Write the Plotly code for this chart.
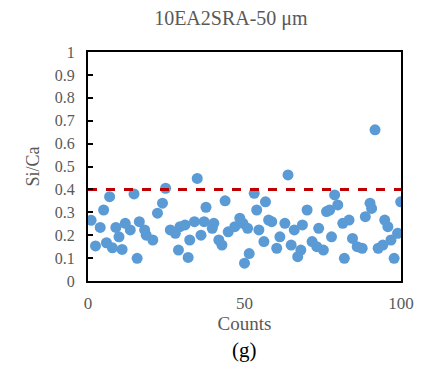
import plotly.graph_objects as go

counts = [1, 2.4, 3.9, 5.0, 5.9, 6.9, 7.8, 8.9, 9.9, 10.9, 11.9, 13.5, 14.7, 15.7, 16.4,
          18.1, 18.6, 20.7, 22.2, 23.8, 24.8, 26.3, 27.9, 28.9, 29.4, 31, 32, 32.5,
          34.0, 34.9, 36.1, 37.1, 37.7, 39.7, 40.2, 41.8, 42.8, 43.8, 44.8, 46.9, 48.5, 49.5, 50, 51.5,
          51, 53.1, 53.9, 54.6, 56.2, 56.7, 57.7, 58.7, 60.3, 61.3, 62.9, 63.9, 64.9, 65.9, 67,
          68, 68.5, 70, 71.6, 73.1, 73.7, 75.2, 76.2, 77.2, 77.8, 78.8, 79.8, 81.4, 81.9, 83.4, 84.5,
          86, 87.6, 88.6, 90.1, 90.6, 91.7, 92.7, 94.2, 94.8, 95.8, 96.8, 97.8, 98.9, 99.9]
si_ca = [0.265, 0.153, 0.234, 0.31, 0.167, 0.368, 0.145, 0.234, 0.193, 0.138, 0.252, 0.223, 0.38, 0.099, 0.259,
         0.223, 0.20, 0.179, 0.296, 0.34, 0.405, 0.223, 0.208, 0.135, 0.237, 0.245, 0.103, 0.179,
         0.259, 0.448, 0.20, 0.259, 0.322, 0.23, 0.252, 0.179, 0.157, 0.35, 0.215, 0.237, 0.274, 0.252, 0.078, 0.12,
         0.23, 0.383, 0.31, 0.223, 0.172, 0.346, 0.266, 0.259, 0.143, 0.193, 0.252, 0.463, 0.157, 0.223, 0.106,
         0.135, 0.245, 0.31, 0.172, 0.15, 0.23, 0.135, 0.303, 0.31, 0.193, 0.376, 0.332, 0.252, 0.099, 0.266, 0.186,
         0.15, 0.143, 0.281, 0.34, 0.317, 0.66, 0.143, 0.157, 0.266, 0.237, 0.179, 0.099, 0.208, 0.346]
threshold = 0.4
x_ticks = [0, 50, 100]
y_ticks = [0, 0.1, 0.2, 0.3, 0.4, 0.5, 0.6, 0.7, 0.8, 0.9, 1]

FONT = "Liberation Serif, Times New Roman, serif"
GREY = "#595959"

fig = go.Figure()
fig.add_trace(go.Scatter(x=counts, y=si_ca, mode="markers",
                         marker=dict(size=11, color="#5B9BD5"), showlegend=False))
fig.add_trace(go.Scatter(x=[0, 100], y=[threshold, threshold], mode="lines",
                         line=dict(color="#C00000", width=3, dash="dash"), showlegend=False))

fig.update_layout(
    width=426, height=366,
    margin=dict(l=88, r=14, t=52, b=85),
    paper_bgcolor="white", plot_bgcolor="white",
    font=dict(family=FONT, color=GREY, size=16),
    title=dict(text="10EA2SRA-50 μm", x=0.542, xanchor="center", y=0.95, yanchor="middle",
               font=dict(family=FONT, size=20, color=GREY)),
    xaxis=dict(range=[0, 100], tickvals=x_ticks, ticktext=[str(v) for v in x_ticks],
               showline=True, linecolor="black", linewidth=2, mirror=True,
               showgrid=False, zeroline=False, ticks="", ticklabelstandoff=6,
               title=dict(text="Counts", standoff=2, font=dict(family=FONT, size=19, color=GREY)),
               tickfont=dict(family=FONT, size=17, color=GREY)),
    yaxis=dict(range=[0, 1], tickvals=y_ticks, ticktext=[f"{v:g}" for v in y_ticks],
               showline=True, linecolor="black", linewidth=2, mirror=True,
               showgrid=False, zeroline=False, ticks="inside", ticklen=5, tickwidth=2, tickcolor="black",
               ticklabelstandoff=8,
               title=dict(text="Si/Ca", standoff=10, font=dict(family=FONT, size=18, color=GREY)),
               tickfont=dict(family=FONT, size=16, color=GREY)),
    annotations=[dict(text="(g)", xref="paper", yref="paper", x=0.5, y=-0.302,
                      xanchor="center", yanchor="middle", showarrow=False,
                      font=dict(family=FONT, size=21, color="black"))],
)

fig.write_html("out.html")
